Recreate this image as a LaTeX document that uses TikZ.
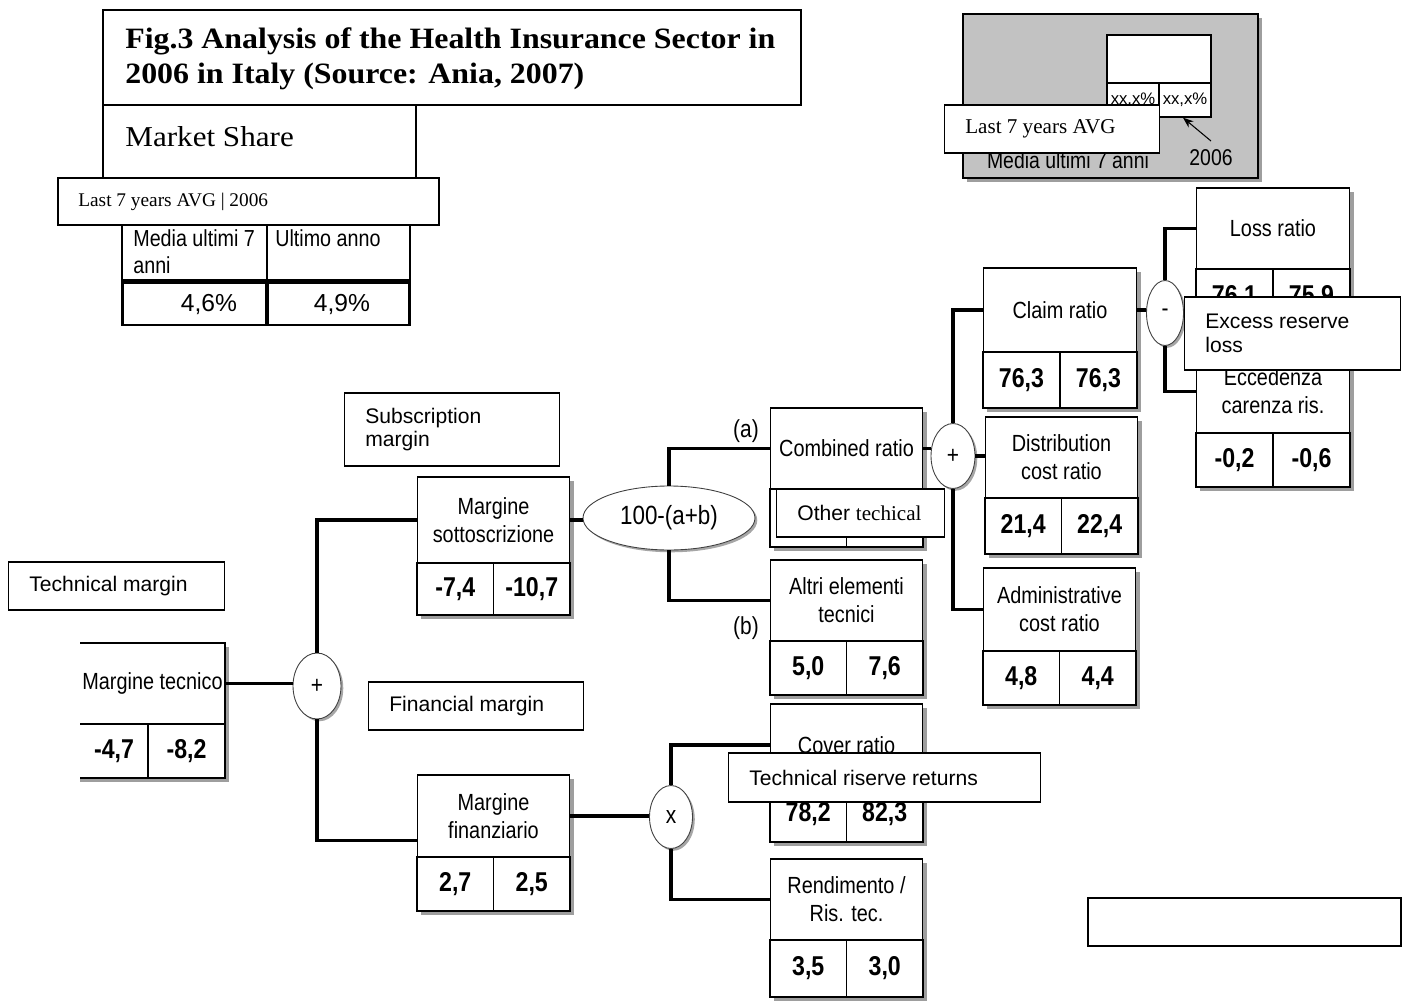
\documentclass[tikz,border=0pt]{standalone}
\usepackage{fontspec}
\setmainfont{Liberation Serif}
\setsansfont{Liberation Sans}
\newfontfamily\nar[FakeStretch=0.85]{Liberation Sans}
\newfontfamily\wser[FakeStretch=1.08]{Liberation Serif}
\usetikzlibrary{shapes.geometric,shadows,arrows.meta}
\tikzset{
  shd/.style={fill=black!38},
  hdr/.style={draw, fill=white, line width=0.8pt, inner sep=0pt, align=center, font=\nar\fontsize{13.3}{15.8}\selectfont},
  val/.style={draw, fill=white, line width=0.8pt, inner sep=0pt, font=\nar\bfseries\fontsize{15.5}{18}\selectfont},
  conn/.style={line width=1.8pt},
  ell/.style={ellipse, draw=black!75, line width=0.5pt, fill=white, inner sep=0pt, font=\nar\fontsize{14}{16}\selectfont,
    drop shadow={shadow xshift=1.3pt, shadow yshift=-1.3pt, fill=black!35, opacity=1}},
  ovlbox/.style={draw, fill=white, line width=0.9pt, inner sep=0pt},
  ovltext/.style={anchor=west, inner sep=0pt, align=left, font=\sffamily\fontsize{12}{13.6}\selectfont},
  plain/.style={inner sep=0pt},
  tcell/.style={draw, line width=0.8pt, inner sep=0pt},
  tval/.style={draw, line width=1.7pt, inner sep=0pt},
}
% tree box: name, x1, y1, x2, y-header-bottom, y-bottom, header, value a, value b
\newcommand\tbox[9]{%
  \fill[shd] (#2+4,#3+4) rectangle (#4+4,#6+4);
  \pgfmathsetmacro\tbW{(#4-#2)*0.5669}%
  \pgfmathsetmacro\tbHW{(#4-#2)*0.5669/2}%
  \pgfmathsetmacro\tbHH{(#5-#3)*0.5669}%
  \pgfmathsetmacro\tbVH{(#6-#5)*0.5669}%
  \node[hdr, minimum width=\tbW pt, minimum height=\tbHH pt] (#1) at ({(#2+#4)/2},{(#3+#5)/2}) {#7};
  \node[val, minimum width=\tbHW pt, minimum height=\tbVH pt] (#1a) at ({(3*#2+#4)/4},{(#5+#6)/2}) {#8};
  \node[val, minimum width=\tbHW pt, minimum height=\tbVH pt] (#1b) at ({(#2+3*#4)/4},{(#5+#6)/2}) {#9};
}
% overlay box: name, x1, y1, x2, y2, text
\newcommand\ovl[6]{%
  \pgfmathsetmacro\ovW{(#4-#2)*0.5669}%
  \pgfmathsetmacro\ovH{(#5-#3)*0.5669}%
  \node[ovlbox, minimum width=\ovW pt, minimum height=\ovH pt] (#1) at ({(#2+#4)/2},{(#3+#5)/2}) {};
  \node[ovltext] (#1t) at ({#2+21},{(#3+#5)/2}) {#6};
}
\begin{document}
\begin{tikzpicture}[x=0.02cm, y=-0.02cm]
\useasboundingbox (0,0) rectangle (1404,1001);
\fill[white] (0,0) rectangle (1404,1001);

% ---------- tree boxes ----------
\tbox{msott}{417}{477}{570}{563}{615}{Margine\\sottoscrizione}{-7,4}{-10,7}
\tbox{mfin}{417}{775}{570}{857}{911}{Margine\\finanziario}{2,7}{2,5}
\tbox{comb}{770}{408}{923}{489}{547}{Combined ratio}{}{}
\tbox{altri}{770}{560}{923}{641}{695}{Altri elementi\\tecnici}{5,0}{7,6}
\tbox{cover}{770}{704}{923}{786}{842}{Cover ratio}{78,2}{82,3}
\tbox{rend}{770}{859}{923}{940}{997}{Rendimento /\\Ris. tec.}{3,5}{3,0}
\tbox{claim}{983}{268}{1137}{352}{408}{Claim ratio}{76,3}{76,3}
\tbox{dist}{985}{417}{1138}{498}{554}{Distribution\\cost ratio}{21,4}{22,4}
\tbox{admin}{983}{568}{1136}{651}{705}{Administrative\\cost ratio}{4,8}{4,4}
\tbox{loss}{1196}{188}{1350}{269}{325}{Loss ratio}{76,1}{75,9}
\tbox{ecc}{1196}{350}{1350}{433}{487}{Eccedenza\\carenza ris.}{-0,2}{-0,6}

% Margine tecnico (left edge cut off)
\fill[shd] (80,647) rectangle (229,782);
\fill[white] (80,643) rectangle (225,778);
\node[hdr, draw=none, fill=none, minimum width=2.9cm, minimum height=1.62cm] (mtec) at (152.5,683.5) {Margine tecnico};
\node[val, draw=none, fill=none, minimum width=1.36cm, minimum height=1.08cm] (mteca) at (114,751) {-4,7};
\node[val, draw=none, fill=none, minimum width=1.54cm, minimum height=1.08cm] (mtecb) at (186.5,751) {-8,2};
\draw[line width=0.8pt] (80,643) -- (225,643) -- (225,778) -- (80,778) (80,724) -- (225,724) (148,724) -- (148,778);

% ---------- operators ----------
\node[ell, minimum width=0.96cm, minimum height=1.32cm] (plus1) at (317,686) {+};
\node[ell, minimum width=3.44cm, minimum height=1.28cm, font=\nar\fontsize{15}{17}\selectfont] (abe) at (669,518) {100-(a+b)};
\node[ell, minimum width=0.88cm, minimum height=1.30cm] (plus2) at (953,456) {+};
\node[ell, minimum width=0.74cm, minimum height=1.30cm] (minus) at (1165,313) {-};
\node[ell, minimum width=0.86cm, minimum height=1.26cm] (times) at (671,817) {x};

% ---------- connectors ----------
\draw[conn] (mtec.east) -- (mtec.east -| plus1.west);
\draw[conn] (msott.west) -| (plus1.north);
\draw[conn] ([yshift=0.34cm]mfin.south west) -| (plus1.south);
\draw[conn] (msott.east) -- (msott.east -| abe.west);
\draw[conn] (comb.west) -| (abe.north);
\draw[conn] (altri.west) -| (abe.south);
\draw[conn] (comb.east) -- (comb.east -| plus2.west);
\draw[conn] (plus2.east) -- (plus2.east -| dist.west);
\draw[conn] (claim.west) -| (plus2.north);
\draw[conn] (admin.west) -| (plus2.south);
\draw[conn] (claim.east) -- (claim.east -| minus.west);
\draw[conn] (loss.west) -| (minus.north);
\draw[conn] (ecc.west) -| (minus.south);
\draw[conn] (mfin.east) -- (mfin.east -| times.west);
\draw[conn] (cover.west) -| (times.north);
\draw[conn] (rend.west) -| (times.south);

\node[plain, font=\nar\fontsize{14}{16}\selectfont] (la) at (746,431) {(a)};
\node[plain, font=\nar\fontsize{14}{16}\selectfont] (lb) at (746,628) {(b)};

% ---------- market share table ----------
\node[tcell, minimum width=2.9cm, minimum height=1.2cm] (mh1) at (194.5,250) {};
\node[tcell, minimum width=2.86cm, minimum height=1.2cm] (mh2) at (338.5,250) {};
\node[plain, anchor=north west, align=left, font=\nar\fontsize{13.2}{15.3}\selectfont] (mh1t) at (133,229) {Media ultimi 7\\anni};
\node[plain, anchor=north west, align=left, font=\nar\fontsize{13.2}{15.3}\selectfont] (mh2t) at (275,229) {Ultimo anno};
\node[tval, minimum width=2.9cm, minimum height=0.86cm] (mv1) at (194.5,303.5) {};
\node[tval, minimum width=2.86cm, minimum height=0.86cm] (mv2) at (338.5,303.5) {};
\node[plain, font=\sffamily\fontsize{14}{16}\selectfont] (mv1t) at (209,304) {4,6\%};
\node[plain, font=\sffamily\fontsize{14}{16}\selectfont] (mv2t) at (342,304) {4,9\%};

% ---------- legend (grey box) ----------
\fill[shd] (967,18) rectangle (1262,182);
\node[draw, fill=black!24, line width=0.9pt, minimum width=5.9cm, minimum height=3.28cm, inner sep=0pt] (gbox) at (1110.5,96) {};
\node[tcell, fill=white, minimum width=2.08cm, minimum height=0.96cm] (xxh) at (1159,59) {};
\node[tcell, fill=white, minimum width=1.04cm, minimum height=0.68cm, font=\sffamily\fontsize{9.5}{11}\selectfont] (xxa) at (1133,100) {xx,x\%};
\node[tcell, fill=white, minimum width=1.04cm, minimum height=0.68cm, font=\sffamily\fontsize{9.5}{11}\selectfont] (xxb) at (1185,100) {xx,x\%};
\node[plain, font=\nar\fontsize{13}{15}\selectfont] (gmed) at (1068,160) {Media ultimi 7 anni};
\node[plain, font=\nar\fontsize{13}{15}\selectfont] (g2006) at (1211,158) {2006};
\coordinate (arrt) at (1211,141);
\draw[line width=0.6pt, -{Stealth[length=6pt,width=4.5pt]}] (arrt) -- ([xshift=-0.04cm]xxb.south);

% ---------- overlays ----------
\node[ovlbox, minimum width=13.96cm, minimum height=1.9cm] (title) at (452,57.5) {};
\node[plain, anchor=west, align=left, font=\wser\bfseries\fontsize{16.8}{19.8}\selectfont] (titlet) at (125,59) {Fig.3 Analysis of the Health Insurance Sector in\\2006 in Italy (Source: Ania, 2007)};
\node[ovlbox, minimum width=6.26cm, minimum height=1.46cm] (mshare) at (259.5,141.5) {};
\node[plain, anchor=base west, font=\wser\fontsize{16.4}{18}\selectfont] (msharet) at (125,146) {Market Share};
\ovl{avgA}{57}{178}{440}{225}{\rmfamily\fontsize{11}{13}\selectfont Last 7 years AVG | 2006}
\ovl{avgB}{944}{105}{1160}{153}{\rmfamily\fontsize{12}{14}\selectfont Last 7 years AVG}
\ovl{techm}{8}{562}{225}{610}{Technical margin}
\ovl{subm}{344}{393}{560}{466}{Subscription\\margin}
\ovl{finm}{368}{682}{584}{730}{Financial margin}
\ovl{otht}{776}{489}{945}{537}{Other {\rmfamily techical}}
\ovl{excl}{1184}{297}{1401}{370}{Excess reserve\\loss}
\ovl{trr}{728}{753}{1041}{802}{Technical riserve returns}
\node[ovlbox, line width=1.2pt, minimum width=6.26cm, minimum height=0.96cm] (blank) at (1244.5,922) {};
\end{tikzpicture}
\end{document}
